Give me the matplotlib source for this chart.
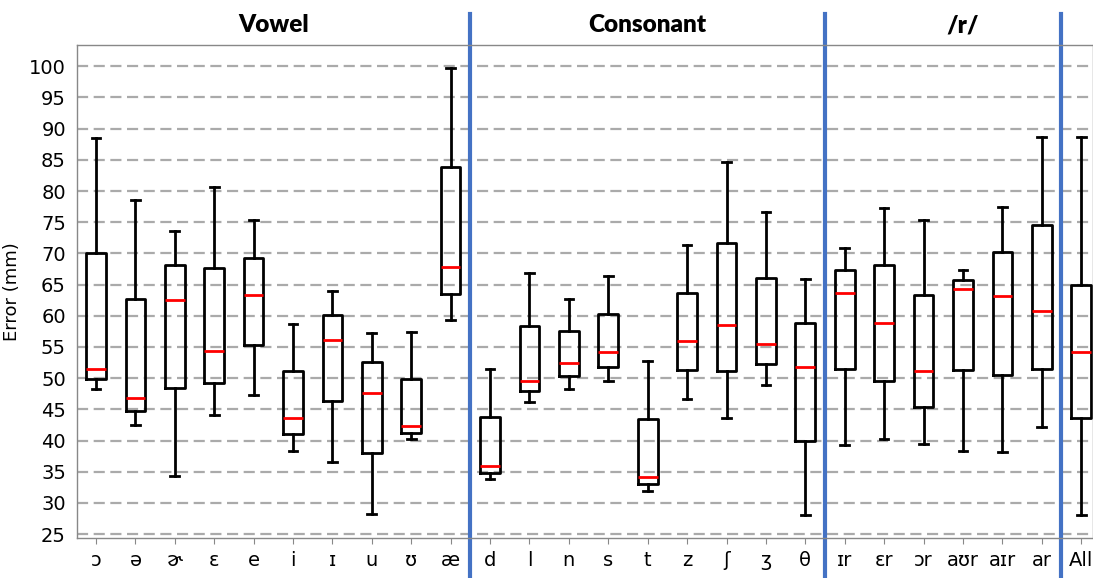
import matplotlib.pyplot as plt
import numpy as np


labels = ['ɔ', 'ə', 'ɚ', 'ɛ', 'e', 'i', 'ɪ', 'u', 'ʊ', 'æ',
          'd', 'l', 'n', 's', 't', 'z', 'ʃ', 'ʒ', 'θ',
          'ɪr', 'ɛr', 'ɔr', 'aʊr', 'aɪr', 'ar', 'All']
whislo = [48.3, 42.5, 34.3, 44.1, 47.3, 38.4, 36.5, 28.2, 40.2, 59.3,
          33.8, 46.2, 48.2, 49.6, 31.9, 46.6, 43.6, 48.9, 28.0,
          39.3, 40.3, 39.4, 38.4, 38.2, 42.1, 28.0]
q1 = [49.8, 44.7, 48.5, 49.2, 55.3, 41.0, 46.3, 38.0, 41.2, 63.5,
      34.8, 48.0, 50.3, 51.8, 33.0, 51.3, 51.1, 52.2, 39.9,
      51.4, 49.5, 45.3, 51.3, 50.5, 51.4, 43.6]
med = [51.4, 46.9, 62.6, 54.3, 63.4, 43.6, 56.1, 47.7, 42.3, 67.8,
       35.9, 49.6, 52.5, 54.2, 34.1, 56.0, 58.6, 55.4, 51.8,
       63.7, 58.9, 51.1, 64.3, 63.1, 60.8, 54.2]
q3 = [70.0, 62.7, 68.1, 67.6, 69.3, 51.2, 60.1, 52.6, 49.9, 83.8,
      43.8, 58.3, 57.6, 60.3, 43.4, 63.7, 71.6, 66.0, 58.9,
      67.3, 68.1, 63.3, 65.8, 70.2, 74.6, 65.0]
whishi = [88.5, 78.5, 73.6, 80.7, 75.3, 58.7, 63.9, 57.3, 57.4, 99.8,
          51.4, 66.9, 62.7, 66.4, 52.8, 71.4, 84.6, 76.6, 65.9,
          70.8, 77.3, 75.4, 67.3, 77.4, 88.6, 88.6]
groups = ['Vowel', 'Consonant', '/r/']
group_x = [5.5, 15, 23]
dividers = [10.5, 19.5, 25.5]

stats = []
for i in range(len(labels)):
    stats.append({'whislo': whislo[i], 'q1': q1[i], 'med': med[i],
                  'q3': q3[i], 'whishi': whishi[i], 'fliers': [], 'label': labels[i]})

fig = plt.figure(figsize=(10.93, 5.78), dpi=100)
ax = fig.add_axes([0.0705, 0.069, 0.9295, 0.853])

lw = 2
ax.bxp(stats, positions=np.arange(1, len(labels) + 1), widths=0.5, capwidths=0.22,
       boxprops=dict(color='black', linewidth=lw),
       whiskerprops=dict(color='black', linewidth=lw),
       capprops=dict(color='black', linewidth=lw),
       medianprops=dict(color='red', linewidth=lw))

ax.set_xlim(0.52, 26.3)
ax.set_ylim(24.36, 103.4)
ax.set_yticks(range(25, 101, 5))
ax.yaxis.grid(True, linestyle=(0, (5, 2.5)), color='#aaaaaa', linewidth=1.6)
ax.set_axisbelow(True)
ax.tick_params(axis='y', length=0, pad=8, labelsize=14)
ax.tick_params(axis='x', length=4, color='#888888', labelsize=14, pad=5)
for s in ax.spines.values():
    s.set_color('#888888')
    s.set_linewidth(1)
ax.set_ylabel('Error (mm)', fontsize=13, labelpad=6)

for d in dividers:
    ax.axvline(d, ymin=-0.081, ymax=1.063, color='#4472C4', linewidth=3, clip_on=False)
for g, gx in zip(groups, group_x):
    ax.text(gx, 1.04, g, transform=ax.get_xaxis_transform(), ha='center', va='center',
            fontsize=17.5, fontweight='heavy', family='Lato')

fig.savefig('out.png', dpi=100)
